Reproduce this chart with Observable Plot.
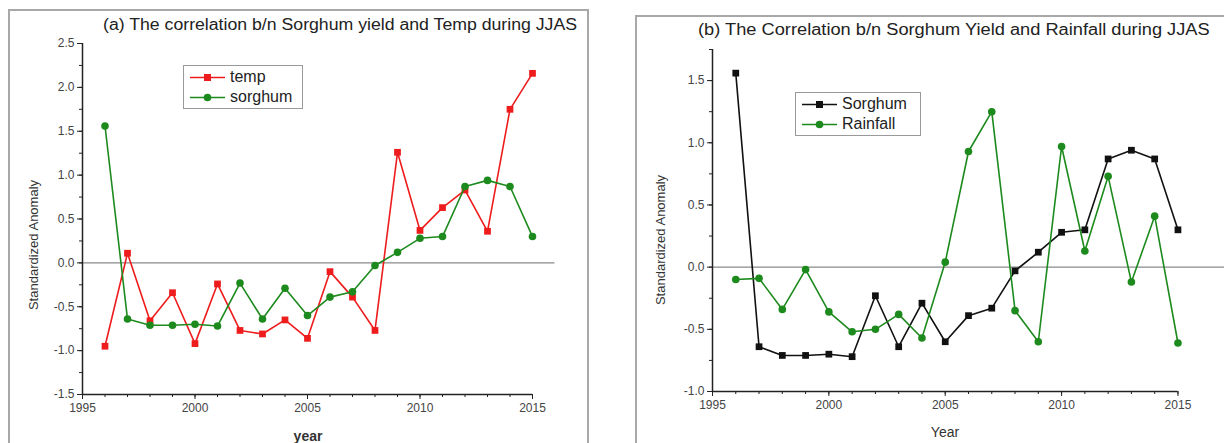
<!DOCTYPE html>
<html>
<head>
<meta charset="utf-8">
<script src="https://cdn.jsdelivr.net/npm/d3@7"></script>
<script src="https://cdn.jsdelivr.net/npm/@observablehq/plot@0.6"></script>
<style>
  body { margin: 0; background: #fff; font-family: "Liberation Sans", Arial, sans-serif; }
  #root { position: relative; width: 1224px; height: 443px; overflow: hidden; background: #fff; }
  .frame { position: absolute; border: 2px solid #a8a8a8; box-sizing: border-box; }
  .abs { position: absolute; white-space: nowrap; color: #222; }
  .title { font-size: 16px; transform-origin: 0 0; }
  .ylab { font-size: 13px; transform: translate(-50%, -50%) rotate(-90deg); color: #333; }
  .xlab { font-size: 14px; transform: translate(-50%, -50%); color: #333; }
  .legend { position: absolute; border: 1.5px solid #999; background: #fff; font-size: 16px; color: #222; }
  .legend div { display: flex; align-items: center; height: 20px; }
  .legend svg { margin-right: 4px; }
  svg.plot { position: absolute; top: 0; overflow: visible; }
</style>
</head>
<body>
<div id="root"></div>
<script>
// ---- data ----
const years = [1996,1997,1998,1999,2000,2001,2002,2003,2004,2005,2006,2007,2008,2009,2010,2011,2012,2013,2014,2015];
const temp = [-0.95,0.11,-0.66,-0.34,-0.92,-0.24,-0.77,-0.81,-0.65,-0.86,-0.10,-0.39,-0.77,1.26,0.37,0.63,0.83,0.36,1.75,2.16];
const sorghum = [1.56,-0.64,-0.71,-0.71,-0.70,-0.72,-0.23,-0.64,-0.29,-0.60,-0.39,-0.33,-0.03,0.12,0.28,0.30,0.87,0.94,0.87,0.30];
const rainfall = [-0.10,-0.09,-0.34,-0.02,-0.36,-0.52,-0.50,-0.38,-0.57,0.04,0.93,1.25,-0.35,-0.60,0.97,0.13,0.73,-0.12,0.41,-0.61];
const xMajorTicks = [1995,2000,2005,2010,2015];
const xMinorTicks = d3.range(1995, 2016, 1);
const yTicksA = [-1.5,-1.0,-0.5,0.0,0.5,1.0,1.5,2.0,2.5];
const yMinorA = d3.range(-1.5, 2.5001, 0.25);
const yTicksB = [-1.0,-0.5,0.0,0.5,1.0,1.5];
const yMinorB = d3.range(-1.0, 1.7501, 0.25);
const titleA = "(a) The correlation b/n Sorghum yield and Temp during JJAS";
const titleB = "(b) The Correlation b/n Sorghum Yield and Rainfall during JJAS";

const RED = "#ee1c1c", GREEN = "#1d8a1d", BLACK = "#111";
const root = document.getElementById("root");

function el(cls, text, style) {
  const d = document.createElement("div");
  d.className = cls;
  if (text) d.textContent = text;
  Object.assign(d.style, style);
  root.appendChild(d);
  return d;
}

function panel({left, width, xDomain, yDomain, mt, mb, ml, mr, yTicks, yMinor, series, zeroEnd}) {
  const data = [];
  series.forEach(s => years.forEach((yr, i) => data.push({year: yr, v: s.values[i], key: s.name})));
  const marks = [
    Plot.ruleY([0], {x1: xDomain[0], x2: zeroEnd, stroke: "#8a8a8a", strokeWidth: 1.2}),
    Plot.ruleY([yDomain[0]], {x1: 1995, x2: 2015, stroke: "#222", strokeWidth: 1.5}),
    Plot.ruleX([1995], {y1: yDomain[0], y2: yDomain[1], stroke: "#222", strokeWidth: 1.5}),
    Plot.axisX(xMajorTicks, {tickSize: 5, tickPadding: 4, tickFormat: d => String(d), fontSize: 12, color: "#444", stroke: "#222", label: null}),
    Plot.axisX(xMinorTicks, {tickSize: 3, stroke: "#222", fill: "none", label: null}),
    Plot.axisY(yTicks, {tickSize: 5, tickPadding: 3, tickFormat: d => d.toFixed(1), fontSize: 12, color: "#444", stroke: "#222", label: null}),
    Plot.axisY(yMinor, {tickSize: 3, stroke: "#222", fill: "none", label: null})
  ];
  series.forEach(s => {
    const rows = data.filter(d => d.key === s.name);
    marks.push(Plot.line(rows, {x: "year", y: "v", stroke: s.color, strokeWidth: 1.6}));
    marks.push(Plot.dot(rows, {x: "year", y: "v", fill: s.color, stroke: "none", r: 3.8, symbol: s.symbol}));
  });
  const svg = Plot.plot({
    width, height: 443,
    marginTop: mt, marginBottom: mb, marginLeft: ml, marginRight: mr,
    x: {domain: xDomain, axis: null},
    y: {domain: yDomain, axis: null},
    style: {fontFamily: "Liberation Sans, Arial, sans-serif", background: "transparent", overflow: "visible"},
    marks
  });
  svg.classList.add("plot");
  svg.style.left = left + "px";
  root.appendChild(svg);
}

function legend(left, top, w, items) {
  const lg = el("legend", null, {left: left + "px", top: top + "px", width: w + "px", padding: "1px 0 1px 6px"});
  items.forEach(it => {
    const row = document.createElement("div");
    const sym = it.symbol === "square"
      ? `<rect x="14" y="4" width="7" height="7" fill="${it.color}"/>`
      : `<circle cx="17.5" cy="7.5" r="3.8" fill="${it.color}"/>`;
    row.innerHTML = `<svg width="36" height="15"><line x1="0" x2="35" y1="7.5" y2="7.5" stroke="${it.color}" stroke-width="1.6"/>${sym}</svg><span>${it.name}</span>`;
    lg.appendChild(row);
  });
}

// frames
el("frame", null, {left: "8px", top: "9px", width: "581px", height: "440px"});
el("frame", null, {left: "635px", top: "15px", width: "600px", height: "440px"});

// panel a
panel({left: 0, width: 600, xDomain: [1995, 2016], yDomain: [-1.5, 2.5], mt: 43, mb: 49, ml: 82, mr: 45.5,
  yTicks: yTicksA, yMinor: yMinorA, zeroEnd: 2016,
  series: [{name: "temp", values: temp, color: RED, symbol: "square"},
           {name: "sorghum", values: sorghum, color: GREEN, symbol: "circle"}]});
// panel b
panel({left: 612, width: 612, xDomain: [1995, 2017], yDomain: [-1.0, 1.75], mt: 49, mb: 52, ml: 100, mr: 0,
  yTicks: yTicksB, yMinor: yMinorB, zeroEnd: 2017,
  series: [{name: "Sorghum", values: sorghum, color: BLACK, symbol: "square"},
           {name: "Rainfall", values: rainfall, color: GREEN, symbol: "circle"}]});

// titles and labels
el("abs title", titleA, {left: "103px", top: "16px", transform: "scaleX(1.105)"});
el("abs title", titleB, {left: "698px", top: "21px", transform: "scaleX(1.14)"});
el("abs ylab", "Standardized Anomaly", {left: "33px", top: "245px"});
el("abs ylab", "Standardized Anomaly", {left: "660px", top: "240px"});
el("abs xlab", "year", {left: "308px", top: "436px", fontWeight: "bold"});
el("abs xlab", "Year", {left: "945px", top: "432px"});

legend(183, 65, 112, [{name: "temp", color: RED, symbol: "square"}, {name: "sorghum", color: GREEN, symbol: "circle"}]);
legend(795, 92, 118, [{name: "Sorghum", color: BLACK, symbol: "square"}, {name: "Rainfall", color: GREEN, symbol: "circle"}]);
</script>
</body>
</html>
